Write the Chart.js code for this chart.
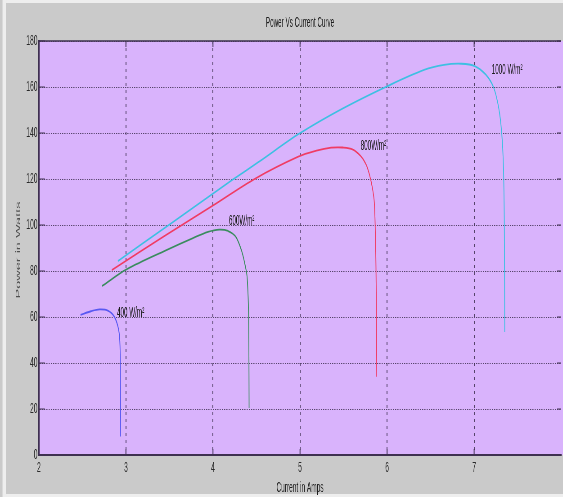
<!DOCTYPE html>
<html>
<head>
<meta charset="utf-8">
<script src="https://cdn.jsdelivr.net/npm/chart.js@4"></script>
<style>
  html, body { margin: 0; padding: 0; overflow: hidden; width: 563px; height: 497px; background: #cacaca; }
  /* the figure is laid out wide and squeezed horizontally, like the original window grab */
  #wrap { position: absolute; left: 0; top: 0; width: 1251px; height: 497px; transform: scaleX(0.45); transform-origin: 0 0; }
  canvas { display: block; }
</style>
</head>
<body>
<div id="wrap"><canvas id="pv" width="1251" height="497"></canvas></div>
<script>
// horizontal squeeze factor of the figure
const S = 0.45;

// current (A) and power (W) for each irradiance level
const current1000 = [2.907, 3.495, 4.222, 4.521, 5.0, 5.488, 6.006, 6.425, 6.654, 6.853, 7.013, 7.132, 7.222, 7.282, 7.317, 7.337, 7.347, 7.352];
const power1000   = [84.3, 100.1, 119.6, 127.3, 139.9, 150.6, 160.4, 167.4, 169.6, 170.1, 169.0, 165.5, 160.0, 151.0, 140.0, 125.0, 100.0, 53.5];

const current800 = [2.837, 3.445, 3.993, 4.491, 4.98, 5.189, 5.358, 5.488, 5.608, 5.697, 5.757, 5.797, 5.832, 5.854, 5.869, 5.877, 5.881];
const power800   = [80.4, 95.3, 108.3, 120.3, 129.7, 132.3, 133.6, 133.7, 132.8, 130.0, 126.5, 122.0, 116.0, 109.6, 90.0, 65.0, 34.0];

const current600 = [2.727, 3.007, 3.465, 3.764, 3.943, 4.073, 4.173, 4.262, 4.332, 4.372, 4.392, 4.407, 4.412, 4.415];
const power600   = [73.5, 80.7, 89.1, 94.2, 97.0, 98.0, 97.4, 94.9, 88.4, 82.0, 77.5, 65.0, 50.0, 20.4];

const current400 = [2.478, 2.598, 2.698, 2.797, 2.867, 2.917, 2.932, 2.937, 2.939];
const power400   = [60.9, 62.5, 63.3, 62.7, 60.1, 54.3, 47.1, 30.0, 8.0];

// curve annotations and where they sit (current, power)
const curveLabels = ['1000 W/m\u00B2', '800W/m\u00B2', '600W/m\u00B2', '400 W/m\u00B2'];
const labelCurrent = [7.202, 5.697, 4.183, 2.897];
const labelPower   = [167.4, 134.4, 101.7, 61.7];

// axis ticks
const xTicks = [2, 3, 4, 5, 6, 7, 8];
const xTickLabels = ['2', '3', '4', '5', '6', '7', ''];
const yTicks = [0, 20, 40, 60, 80, 100, 120, 140, 160, 180];
const yTickLabels = ['0', '20', '40', '60', '80', '100', '120', '140', '160', '180'];

const FONT = "'Liberation Sans', Arial, sans-serif";
const AXIS_DARK = '#3e3050';
const GRID = 'rgba(62,48,80,0.85)';

function pairs(xs, ys) {
  return xs.map((x, i) => ({ x: x, y: ys[i] }));
}

function curve(label, xs, ys, color) {
  return {
    label: label,
    data: pairs(xs, ys),
    showLine: true,
    borderColor: color,
    backgroundColor: color,
    borderWidth: 1.8,
    pointRadius: 0,
    pointHoverRadius: 0,
    tension: 0.35,
    fill: false
  };
}

// background, plot face, frame, titles and curve annotations
const figure = {
  id: 'figure',
  beforeDraw(chart) {
    const { ctx, width, height, chartArea: a } = chart;
    ctx.save();
    ctx.fillStyle = '#cacaca';
    ctx.fillRect(0, 0, width, height);
    ctx.fillStyle = '#eeeeee';
    ctx.fillRect(2.5 / S, 0, 3.5 / S, height);
    ctx.fillRect(6 / S, 0, width, 3);
    ctx.fillRect(6 / S, height - 3, width, 3);
    ctx.fillStyle = '#d9b3fc';
    ctx.fillRect(a.left, a.top, width - a.left, a.bottom - a.top);
    ctx.restore();
  },
  afterDraw(chart) {
    const { ctx, width, chartArea: a } = chart;
    const xs = chart.scales.x, ys = chart.scales.y;
    ctx.save();

    // inward tick marks on the box
    ctx.strokeStyle = AXIS_DARK;
    ctx.lineWidth = 2;
    xTicks.slice(0, -1).forEach(v => {
      const px = xs.getPixelForValue(v);
      ctx.beginPath();
      ctx.moveTo(px, a.top); ctx.lineTo(px, a.top + 6);
      ctx.moveTo(px, a.bottom); ctx.lineTo(px, a.bottom - 6);
      ctx.stroke();
    });
    ctx.lineWidth = 1;
    const rightEdge = Math.min(a.right, width);
    yTicks.forEach(v => {
      const py = ys.getPixelForValue(v);
      ctx.beginPath();
      ctx.moveTo(a.left, py); ctx.lineTo(a.left + 6 / S, py);
      ctx.moveTo(rightEdge, py); ctx.lineTo(rightEdge - 4 / S, py);
      ctx.stroke();
    });
    // top edge of the box
    ctx.lineWidth = 1.5;
    ctx.beginPath();
    ctx.moveTo(a.left, a.top); ctx.lineTo(a.right, a.top);
    ctx.stroke();

    // curve annotations
    ctx.fillStyle = '#1c1c1c';
    ctx.font = '14px ' + FONT;
    ctx.textAlign = 'left';
    ctx.textBaseline = 'middle';
    curveLabels.forEach((t, i) => {
      ctx.fillText(t, xs.getPixelForValue(labelCurrent[i]), ys.getPixelForValue(labelPower[i]));
    });

    // title and axis titles
    const cx = (a.left + a.right) / 2;
    ctx.textAlign = 'center';
    ctx.fillStyle = '#1e1e1e';
    ctx.font = '14px ' + FONT;
    ctx.fillText('Power Vs Current Curve', cx, 23);
    ctx.font = '14.5px ' + FONT;
    ctx.fillText('Current in Amps', cx, 488);

    ctx.translate(18.3 / S, 250);
    ctx.rotate(-Math.PI / 2);
    ctx.fillStyle = '#505050';
    ctx.font = '14.5px ' + FONT;
    ctx.fillText('Power in Watts', 0, 0);
    ctx.restore();
  }
};

new Chart(document.getElementById('pv'), {
  type: 'scatter',
  data: {
    datasets: [
      curve('1000 W/m\u00B2', current1000, power1000, '#3ec0e2'),
      curve('800 W/m\u00B2', current800, power800, '#f03c64'),
      curve('600 W/m\u00B2', current600, power600, '#3a8c5e'),
      curve('400 W/m\u00B2', current400, power400, '#5858f2')
    ]
  },
  options: {
    responsive: false,
    devicePixelRatio: 1,
    animation: false,
    events: [],
    layout: { padding: { top: 41, left: 0, right: -5.4, bottom: 0 } },
    plugins: {
      legend: { display: false },
      title: { display: false },
      tooltip: { enabled: false }
    },
    scales: {
      x: {
        type: 'linear',
        min: 2,
        max: 8,
        afterBuildTicks: s => { s.ticks = xTicks.map(v => ({ value: v })); },
        afterFit: s => { s.height = 42; },
        ticks: {
          autoSkip: false,
          maxRotation: 0,
          padding: 4,
          color: '#2a2a2a',
          font: { family: FONT, size: 15 },
          callback: v => xTickLabels[xTicks.indexOf(v)]
        },
        grid: {
          color: c => (c.tick && c.tick.value === 8 ? 'rgba(0,0,0,0)' : GRID),
          lineWidth: 2,
          drawTicks: false
        },
        border: { display: true, color: AXIS_DARK, width: 2, dash: [3, 4] }
      },
      y: {
        type: 'linear',
        min: 0,
        max: 180,
        afterBuildTicks: s => { s.ticks = yTicks.map(v => ({ value: v })); },
        afterFit: s => { s.width = 86.4; },
        ticks: {
          autoSkip: false,
          padding: 3,
          color: '#2a2a2a',
          font: { family: FONT, size: 15 },
          callback: v => yTickLabels[yTicks.indexOf(v)]
        },
        grid: { color: GRID, lineWidth: 1, drawTicks: false },
        border: { display: true, color: AXIS_DARK, width: 3, dash: [2.5, 2.5] }
      }
    }
  },
  plugins: [figure]
});
</script>
</body>
</html>
